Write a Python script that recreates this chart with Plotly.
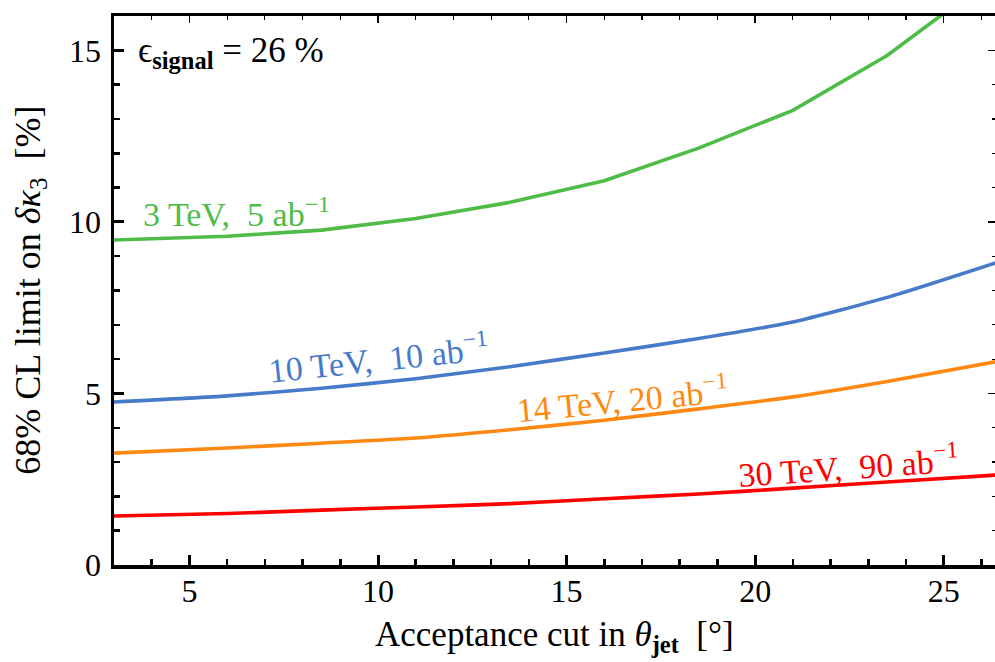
import plotly.graph_objects as go

# ---- data ----
theta = [3, 6, 8.5, 11, 13.5, 16, 18.5, 21, 23.5, 26.5]
k3_3TeV = [9.47, 9.58, 9.76, 10.1, 10.57, 11.2, 12.15, 13.25, 14.85, 17.3]
k3_10TeV = [4.75, 4.93, 5.15, 5.43, 5.78, 6.18, 6.6, 7.08, 7.8, 8.85]
k3_14TeV = [3.26, 3.41, 3.55, 3.7, 3.94, 4.22, 4.55, 4.9, 5.35, 5.95]
k3_30TeV = [1.43, 1.5, 1.6, 1.69, 1.79, 1.93, 2.07, 2.24, 2.42, 2.63]

series_names = ["3 TeV,  5 ab<sup>\u22121</sup>",
                "10 TeV,  10 ab<sup>\u22121</sup>",
                "14 TeV, 20 ab<sup>\u22121</sup>",
                "30 TeV,  90 ab<sup>\u22121</sup>"]
series_vals = [k3_3TeV, k3_10TeV, k3_14TeV, k3_30TeV]
colors = ["rgb(78,188,70)", "rgb(72,122,202)", "rgb(255,136,18)", "rgb(255,0,0)"]
shapes = ["linear", "spline", "spline", "spline"]

# label placement (data coords) and angle
label_pos = [(6.24, 10.3, 0), (10.0, 6.05, -6), (16.47, 4.88, -5.5), (22.47, 2.9, -4)]

x_ticks = [5, 10, 15, 20, 25]
y_ticks = [0, 5, 10, 15]
x_range = [3, 26.36]
y_range = [0, 16]

FONT = "Liberation Serif, Times New Roman, serif"

fig = go.Figure()
for name, vals, c, sh in zip(series_names, series_vals, colors, shapes):
    fig.add_trace(go.Scatter(x=theta, y=vals, mode="lines", name=name,
                             line=dict(color=c, width=3.6, shape=sh, smoothing=0.6),
                             showlegend=False, hoverinfo="skip", cliponaxis=True))

# invisible trace for overlay axes
fig.add_trace(go.Scatter(x=x_range, y=y_range, xaxis="x2", yaxis="y2", mode="markers",
                         marker=dict(opacity=0), showlegend=False, hoverinfo="skip"))

for (lx, ly, ang), name, c in zip(label_pos, series_names, colors):
    fig.add_annotation(x=lx, y=ly, xref="x", yref="y", text=name, showarrow=False,
                       textangle=ang, font=dict(family=FONT, size=34, color=c))

fig.add_annotation(x=6.1, y=14.95, xref="x", yref="y",
                   text="\u03f5<sub><b>signal</b></sub> = 26 %", showarrow=False,
                   font=dict(family=FONT, size=35, color="black"))

fig.add_annotation(x=0.5, y=-0.131, xref="paper", yref="paper", xanchor="center", yanchor="middle",
                   text="Acceptance cut in <i>\u03b8</i><sub><b>jet</b></sub>  [\u00b0]", showarrow=False,
                   font=dict(family=FONT, size=35, color="black"))
fig.add_annotation(x=-0.095, y=0.5, xref="paper", yref="paper", xanchor="center", yanchor="middle",
                   textangle=-90,
                   text="68% CL limit on <i>\u03b4\u03ba</i><sub>3</sub>  [%]", showarrow=False,
                   font=dict(family=FONT, size=36, color="black"))

axis_common = dict(showgrid=False, zeroline=False, automargin=False)
fig.update_layout(
    width=995, height=662,
    margin=dict(l=114, r=0, t=16, b=97, autoexpand=False),
    paper_bgcolor="white", plot_bgcolor="white",
    font=dict(family=FONT, size=32, color="black"),
    hovermode=False,
    xaxis=dict(range=x_range, tickvals=x_ticks, ticks="inside", ticklen=10, tickwidth=3,
               tickcolor="black", showline=True, linewidth=3.5, linecolor="black", mirror=True,
               minor=dict(dtick=1, tick0=0, ticks="inside", ticklen=6, tickwidth=2.5, tickcolor="black"),
               tickfont=dict(family=FONT, size=32), ticklabelstandoff=-5, **axis_common),
    yaxis=dict(range=y_range, tickvals=y_ticks, ticks="inside", ticklen=10, tickwidth=3,
               tickcolor="black", showline=True, linewidth=3.5, linecolor="black", mirror=False,
               minor=dict(dtick=1, tick0=0, ticks="inside", ticklen=6, tickwidth=2.5, tickcolor="black"),
               tickfont=dict(family=FONT, size=32), ticklabelstandoff=3, **axis_common),
    xaxis2=dict(range=x_range, overlaying="x", side="top", anchor="y", tickvals=x_ticks,
                ticks="inside", ticklen=7, tickwidth=1.5, tickcolor="black", showticklabels=False,
                showline=False,
                minor=dict(dtick=1, tick0=0, ticks="inside", ticklen=3.5, tickwidth=1.2, tickcolor="black"),
                **axis_common),
    yaxis2=dict(range=y_range, overlaying="y", side="right", anchor="x", tickvals=y_ticks,
                ticks="inside", ticklen=7, tickwidth=1.5, tickcolor="black", showticklabels=False,
                showline=False,
                minor=dict(dtick=1, tick0=0, ticks="inside", ticklen=3.5, tickwidth=1.2, tickcolor="black"),
                **axis_common),
)

fig.write_html("out.html",
               config={"displayModeBar": False, "staticPlot": True},
               post_script="document.body.style.margin='0';document.body.style.overflow='hidden';")
